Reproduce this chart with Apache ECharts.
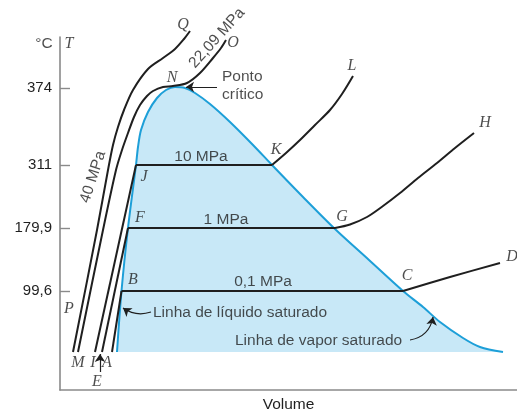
<!DOCTYPE html>
<html><head><meta charset="utf-8">
<script src="https://cdn.jsdelivr.net/npm/echarts@6/dist/echarts.min.js"></script>
<style>html,body{margin:0;padding:0;background:#fff}#c{width:517px;height:410px}</style>
</head><body><div id="c"></div>
<script>
// Schematic T–v diagram (units: arbitrary schematic volume / temperature levels)
const tickValues = [99, 162, 225, 302];
const tickLabels = ['99,6', '179,9', '311', '374'];

// saturation dome (liquid line -> critical point -> vapour line)
const domeCurve = [[57,38],[61.5,99],[68,162],[76,225],[78,243],[81,260],[88,278],[97,292],[106,300],[115,303],
  [125,302],[135,297],[150,286],[170,268],[193,245],[212,225],[243,193],[275,161],[309,130],[343,99],
  [363,83],[380,68],[403,52],[420,43],[443,38]];
const domeBase = 38;

// 0,1 MPa isobar A-B-C-D
const iso01Liquid = [[52,38],[61.5,99]];
const iso01Plateau = [[61.5,99],[343,99]];
const iso01Vapor = [[343,99],[390,113],[440,127]];
// 1 MPa isobar E-F-G-H
const iso1Liquid = [[42,38],[68,162]];
const iso1Plateau = [[68,162],[275,162]];
const iso1Vapor = [[275,162],[290,165.5],[307,173],[323,184],[340,197],[358,212],[377,227],[395,242],[414,257]];
// 10 MPa isobar I-J-K-L
const iso10Liquid = [[35,38],[76,225]];
const iso10Plateau = [[76,225],[212,225]];
const iso10Vapor = [[212,225],[226,237],[240,250],[255,265],[270,280],[282,296],[293,314]];
// 22,09 MPa critical isobar M-N-O
const isoCrit = [[18,38],[43,160],[56,220],[62,240],[68,257],[74,273],[80,285],[87,294],[93,299],[103,303],
  [113,304],[127,307],[140,317],[153,332],[161,342],[166,350]];
// 40 MPa isobar P-Q
const iso40 = [[13,38],[37,160],[48,220],[53,245],[58,263],[64,280],[73,300],[88,321],[103,332],[115,341],[124,351],[130,359]];

// point letters and their anchors
const letterNames = ['A','B','C','D','E','F','G','H','I','J','K','L','M','N','O','P','Q','T'];
const letterAnchors = [[47,27],[73,110],[347,114],[452,133],[37,8],[80,172],[282,173],[425,267],[33,27],[84,213],[216,240],[292,324],[18,27],[112,312],[173,347],[9,81],[123,365],[9,346]];

// centred texts
const centerTexts = ['10 MPa','1 MPa','0,1 MPa','°C'];
const centerAnchors = [[141,233],[166,170],[203,108],[-16,346]];
// left-aligned texts
const leftTexts = ['Ponto','crítico','Linha de líquido saturado','Linha de vapor saturado'];
const leftAnchors = [[162,313],[162,295],[93,77],[175,49]];
// rotated isobar names
const rotTexts = ['22,09 MPa','40 MPa'];
const rotAnchors = [[157,352],[33,213]];
const rotAngles = [48,72];

// pointer arrows
const arrowLines = [[[157,303],[126,303]],[[91,78],[63,82]],[[350,50],[373,73]],[[40,18],[40,36]]];
const arrowCurves = [0, 0.25, -0.35, 0];

const black = '#1f1f1f', blue = '#1d9fd8', fill = '#c8e8f7';
const sans = 'Liberation Sans, Arial, sans-serif';
const serif = 'Liberation Serif, Times New Roman, serif';

function lineSeries(data, smooth, extra) {
  return Object.assign({type:'line', data, smooth, symbol:'none', clip:false, silent:true,
    lineStyle:{color:black, width:2}, z:3}, extra || {});
}

const chart = echarts.init(document.getElementById('c'), null, {renderer:'canvas'});
chart.setOption({
  animation:false,
  backgroundColor:'#fff',
  grid:{left:60, right:0, top:37, bottom:20, containLabel:false, outerBoundsMode:'none'},
  xAxis:{type:'value', min:0, max:457, name:'Volume', nameLocation:'middle', nameGap:7,
    nameTextStyle:{fontFamily:sans, fontSize:15.5, color:black, verticalAlign:'top'},
    axisLine:{show:true, lineStyle:{color:'#8a8a8a', width:1.6}}, axisTick:{show:false},
    axisLabel:{show:false}, splitLine:{show:false}},
  yAxis:{type:'value', min:0, max:353,
    axisLine:{show:true, lineStyle:{color:'#8a8a8a', width:1.6}},
    axisTick:{show:true, inside:true, length:10, customValues:tickValues, lineStyle:{color:'#8a8a8a', width:1.4}},
    axisLabel:{show:true, customValues:tickValues, margin:8, fontFamily:sans, fontSize:15, color:black,
      formatter:v => tickLabels[tickValues.indexOf(v)]},
    splitLine:{show:false}},
  series:[
    {type:'line', data:domeCurve, smooth:0.3, symbol:'none', silent:true, z:2,
      lineStyle:{color:blue, width:2}, areaStyle:{color:fill, opacity:1, origin:domeBase}},
    lineSeries(iso01Liquid,false), lineSeries(iso01Plateau,false), lineSeries(iso01Vapor,0.3),
    lineSeries(iso1Liquid,false), lineSeries(iso1Plateau,false), lineSeries(iso1Vapor,0.3),
    lineSeries(iso10Liquid,false), lineSeries(iso10Plateau,false), lineSeries(iso10Vapor,0.3),
    lineSeries(isoCrit,0.3), lineSeries(iso40,0.3),
    {type:'scatter', symbolSize:0, clip:false, silent:true, z:5,
      data: letterNames.map((n,i)=>({name:n, value:letterAnchors[i]})),
      label:{show:true, position:'inside', formatter:'{b}', fontFamily:serif, fontStyle:'italic', fontSize:16, color:black}},
    {type:'scatter', symbolSize:0, clip:false, silent:true, z:5,
      data: centerTexts.map((n,i)=>({name:n, value:centerAnchors[i]})),
      label:{show:true, position:'inside', formatter:'{b}', fontFamily:sans, fontSize:15.5, color:black}},
    {type:'scatter', symbolSize:0, clip:false, silent:true, z:5,
      data: leftTexts.map((n,i)=>({name:n, value:leftAnchors[i]})),
      label:{show:true, position:'right', distance:0, formatter:'{b}', fontFamily:sans, fontSize:15.5, color:black}},
    {type:'scatter', symbolSize:0, clip:false, silent:true, z:5,
      data: rotTexts.map((n,i)=>({name:n, value:rotAnchors[i], label:{rotate:rotAngles[i]}})),
      label:{show:true, position:'inside', formatter:'{b}', fontFamily:sans, fontSize:15.5, color:black}},
    {type:'lines', coordinateSystem:'cartesian2d', silent:true, z:6,
      symbol:['none','arrow'], symbolSize:8,
      data: arrowLines.map((c,i)=>({coords:c, lineStyle:{curveness:arrowCurves[i]}})),
      lineStyle:{color:black, width:1.2, opacity:1}}
  ]
});
</script></body></html>
